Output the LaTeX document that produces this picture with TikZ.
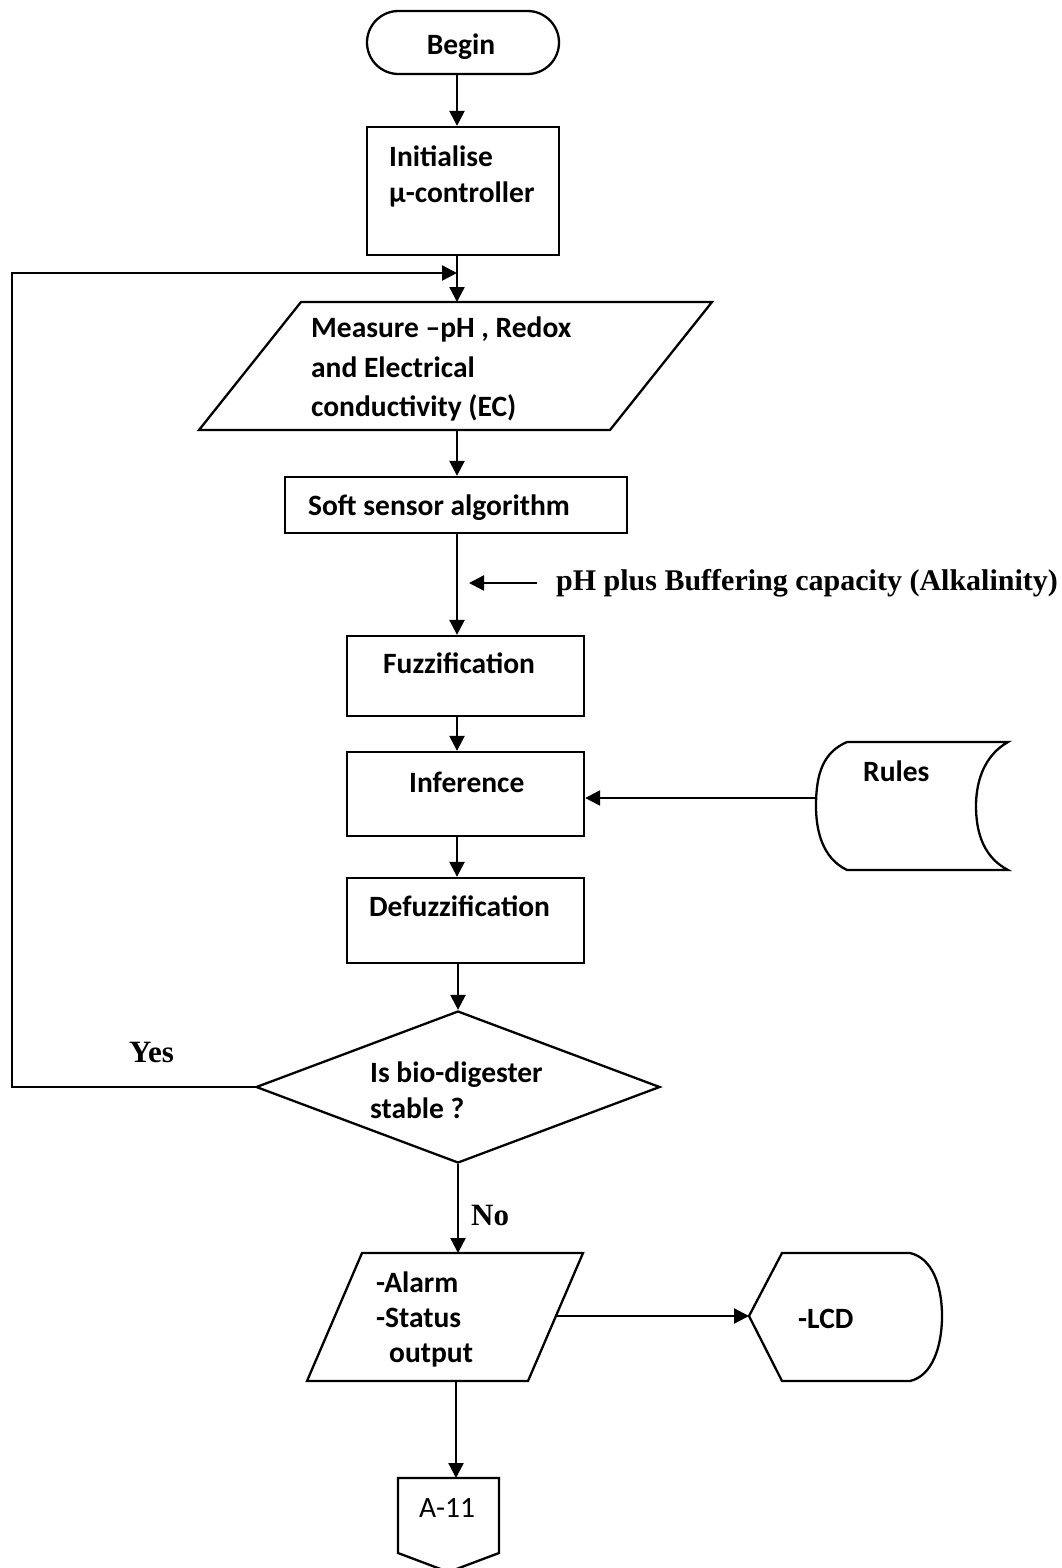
\documentclass[tikz,border=0pt]{standalone}
\usepackage{fontspec}
\setmainfont{Carlito}
\newfontfamily\tnr{Liberation Serif}
\usetikzlibrary{arrows.meta,shapes.geometric}

\begin{document}
\begin{tikzpicture}[x=1pt,y=-1pt,line width=2.3pt,
  flow/.style={line width=2.4pt,-{Triangle[length=15pt,width=15pt]}},
  boxshape/.style={draw,rectangle,inner sep=0pt,minimum width=#1},
  txt/.style={anchor=base west,inner sep=0pt,font=\fontsize{29.5pt}{36pt}\selectfont\bfseries},
  plain/.style={anchor=base west,inner sep=0pt,font=\fontsize{29.5pt}{36pt}\selectfont},
  serif/.style={anchor=base west,inner sep=0pt,font=\tnr\fontsize{31pt}{36pt}\selectfont\bfseries}]

\useasboundingbox (0,0) rectangle (1062,1568);

% main vertical axis of the flow
\coordinate (ax) at (457,0);

% terminator
\node[draw,rounded corners=31.5pt,minimum width=192pt,minimum height=63pt,inner sep=0pt] (begin) at (463,42.5) {};
\node[txt,anchor=base] (begin-t) at (461,55) {Begin};

% initialisation box
\node[boxshape=192pt,minimum height=128pt] (init) at (463,191) {};
\node[txt] (init-t1) at (388,166) {Initialise};
\node[txt] (init-t2) at (388,202) {μ-controller};

% measurement input (parallelogram)
\coordinate (meas-top) at (457,302);
\coordinate (meas-bot) at (457,430);
\draw (301,302) -- (712,302) -- (610,430) -- (199,430) -- cycle;
\node[txt] (meas-t1) at (310,337) {Measure –pH , Redox};
\node[txt] (meas-t2) at (310,377) {and Electrical};
\node[txt] (meas-t3) at (310,416) {conductivity (EC)};

% soft sensor
\node[boxshape=342pt,minimum height=56pt] (soft) at (456,505) {};
\node[txt] (soft-t) at (307,515) {Soft sensor algorithm};

% fuzzy stages
\node[boxshape=237pt,minimum height=80pt] (fuzz) at (465.5,676) {};
\node[txt] (fuzz-t) at (382,673) {Fuzzification};
\node[boxshape=237pt,minimum height=84pt] (inf) at (465.5,794) {};
\node[txt] (inf-t) at (408,792) {Inference};
\node[boxshape=237pt,minimum height=85pt] (defuzz) at (465.5,920.5) {};
\node[txt] (defuzz-t) at (368,916) {Defuzzification};

% stored rules
\draw (847,742) -- (1008,742)
  .. controls (985,755) and (976,780) .. (976,806)
  .. controls (976,835) and (985,858) .. (1008,870)
  -- (847,870)
  .. controls (822,858) and (816,830) .. (816,806)
  .. controls (816,772) and (824,752) .. (847,742);
\coordinate (rules-in) at (816,798);
\node[txt] (rules-t) at (862,781) {Rules};

% decision
\node[draw,diamond,inner sep=0pt,minimum width=404pt,minimum height=152pt] (dec) at (458,1087) {};
\node[txt] (dec-t1) at (369,1082) {Is bio-digester};
\node[txt] (dec-t2) at (369,1118) {stable ?};

% output (parallelogram)
\coordinate (out-top) at (456,1253);
\coordinate (out-bot) at (456,1381);
\coordinate (out-right) at (556,1316);
\draw (362,1253) -- (583,1253) -- (528,1381) -- (307,1381) -- cycle;
\node[txt] (out-t1) at (375,1292) {-Alarm};
\node[txt] (out-t2) at (375,1327) {-Status};
\node[txt] (out-t3) at (388,1362) {output};

% display
\coordinate (lcd-in) at (749,1316);
\draw (lcd-in) -- (782,1253) -- (910,1253)
  .. controls (932,1258) and (942,1285) .. (942,1316)
  .. controls (942,1347) and (932,1376) .. (910,1381)
  -- (782,1381) -- cycle;
\node[txt] (lcd-t) at (797,1328) {-LCD};

% off-page connector
\coordinate (conn-top) at (456,1478);
\draw (398,1478) -- (499,1478) -- (499,1553) -- (448.5,1572) -- (398,1553) -- cycle;
\node[plain] (conn-t) at (418,1517) {A-11};

% connectors
\draw[flow] (begin.south -| ax) -- (init.north -| ax);
\draw[flow] (init.south -| ax) -- (meas-top);
\draw[flow] (meas-bot) -- (soft.north -| ax);
\draw[flow] (soft.south -| ax) -- (fuzz.north -| ax);
\draw[flow] (fuzz.south -| ax) -- (inf.north -| ax);
\draw[flow] (inf.south -| ax) -- (defuzz.north -| ax);
\draw[flow] (defuzz.south -| dec.north) -- (dec.north);
\draw[flow] (rules-in) -- (inf.east |- rules-in);

% side input to the fuzzifier
\coordinate (side-from) at (537,583);
\coordinate (side-to) at (469,583);
\node[serif,font=\tnr\fontsize{30pt}{36pt}\selectfont\bfseries] (ph) at (555,590) {pH plus Buffering capacity (Alkalinity)};
\draw[flow] (side-from) -- (side-to);

% stable: loop back to measurement
\coordinate (loop-b) at (12,1087);
\coordinate (loop-t) at (12,273);
\draw[flow] (dec.west) -- (loop-b) -- (loop-t) -- (loop-t -| ax);
\node[serif] (yes) at (128,1062) {Yes};

% not stable: report
\draw[flow] (dec.south) -- (dec.south |- out-top);
\node[serif] (no) at (470,1225) {No};
\draw[flow] (out-right) -- (lcd-in);
\draw[flow] (out-bot) -- (conn-top);

\end{tikzpicture}
\end{document}
